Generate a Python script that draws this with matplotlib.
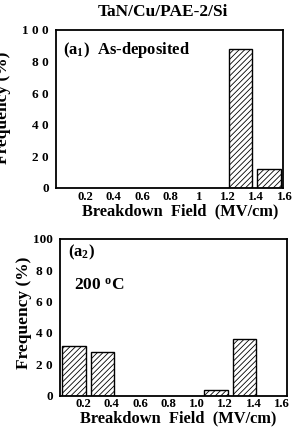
import matplotlib
matplotlib.use("Agg")
import matplotlib.pyplot as plt
import matplotlib.transforms as mtransforms

plt.rcParams['font.family'] = ['Liberation Serif', 'DejaVu Serif']
plt.rcParams['font.weight'] = 'bold'
plt.rcParams['mathtext.fontset'] = 'custom'
plt.rcParams['mathtext.rm'] = 'Liberation Serif:bold'
plt.rcParams['mathtext.bf'] = 'Liberation Serif:bold'
plt.rcParams['mathtext.it'] = 'Liberation Serif:bold'
plt.rcParams['mathtext.default'] = 'bf'
plt.rcParams['hatch.linewidth'] = 0.6

# Data
title = "TaN/Cu/PAE-2/Si"
top_centers = [1.3, 1.5]
top_freq = [88, 12]
bot_centers = [0.1, 0.3, 1.1, 1.3]
bot_freq = [32, 28, 4, 36]
bar_width = 0.165
xtick_pos = [0.2, 0.4, 0.6, 0.8, 1.0, 1.2, 1.4, 1.6]
top_xticklabels = ["0.2", "0.4", "0.6", "0.8", "1", "1.2", "1.4", "1.6"]
bot_xticklabels = ["0.2", "0.4", "0.6", "0.8", "1.0", "1.2", "1.4", "1.6"]
ytick_pos = [0, 20, 40, 60, 80, 100]
top_yticklabels = ["0", "2 0", "4 0", "6 0", "8 0", "1 0 0"]
bot_yticklabels = ["0", "2 0", "4 0", "6 0", "8 0", "100"]

fig = plt.figure(figsize=(2.94, 4.34), dpi=100)
ax1 = fig.add_axes([0.190, 0.567, 0.774, 0.364])
ax2 = fig.add_axes([0.204, 0.088, 0.772, 0.362])


def style(ax, centers, freq, xlabels, ylabels, dx, xpad):
    ax.bar(centers, freq, width=bar_width, facecolor='white', edgecolor='black',
           hatch='//////', linewidth=1.0)
    ax.set_xlim(0, 1.6)
    ax.set_ylim(0, 100)
    for s in ax.spines.values():
        s.set_linewidth(1.3)
    ax.set_xticks(xtick_pos)
    ax.set_xticklabels(xlabels, fontsize=9.2, fontweight='bold')
    ax.set_yticks(ytick_pos)
    ax.set_yticklabels(ylabels, fontsize=9.5, fontweight='bold')
    ax.tick_params(which='major', length=0)
    ax.tick_params(axis='x', which='major', pad=xpad)
    ax.tick_params(axis='y', which='major', pad=5)
    ax.set_xticks(xtick_pos[:-1], minor=True)
    ax.set_yticks(ytick_pos[1:-1], minor=True)
    ax.tick_params(which='minor', direction='in', length=4, width=1.0,
                   top=True, right=True, bottom=True, left=True)
    off = mtransforms.ScaledTranslation(dx / 100.0, 0, fig.dpi_scale_trans)
    for lab in ax.get_xticklabels():
        lab.set_transform(lab.get_transform() + off)


style(ax1, top_centers, top_freq, top_xticklabels, top_yticklabels, 1, 2)
style(ax2, bot_centers, bot_freq, bot_xticklabels, bot_yticklabels, -5, 1.5)

ax1.text(0.03, 0.87, "(a$_1$)  As-deposited", transform=ax1.transAxes,
         fontsize=12, fontweight='bold', va='center', ha='left')
ax2.text(0.035, 0.91, "(a$_2$)", transform=ax2.transAxes,
         fontsize=12, fontweight='bold', va='center', ha='left')
ax2.text(0.06, 0.70, "200 $^{o}$C", transform=ax2.transAxes,
         fontsize=12.5, fontweight='bold', va='center', ha='left')

fig.text(0.555, 0.972, title, fontsize=12.5, fontweight='bold', ha='center', va='center')
fig.text(0.612, 0.513, "Breakdown  Field  (MV/cm)", fontsize=11.8, fontweight='bold',
         ha='center', va='center')
fig.text(0.606, 0.036, "Breakdown  Field  (MV/cm)", fontsize=11.8, fontweight='bold',
         ha='center', va='center')
fig.text(0.010, 0.751, "Frequency (%)", fontsize=12.5, fontweight='bold', rotation=90,
         ha='center', va='center')
fig.text(0.080, 0.279, "Frequency (%)", fontsize=12.5, fontweight='bold', rotation=90,
         ha='center', va='center')

fig.savefig("out.png", dpi=100)
